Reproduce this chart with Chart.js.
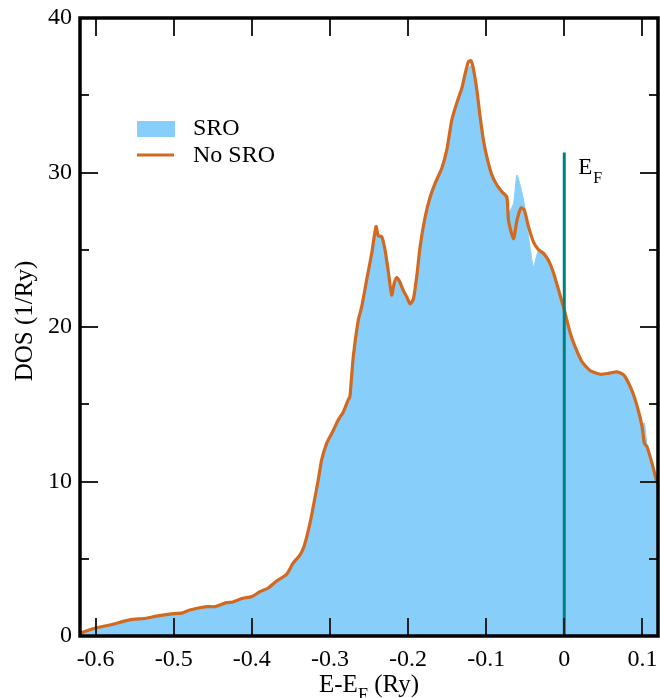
<!DOCTYPE html>
<html>
<head>
<meta charset="utf-8">
<script src="https://cdn.jsdelivr.net/npm/chart.js@4/dist/chart.umd.min.js"></script>
<style>
  html, body { margin: 0; padding: 0; background: #fff; }
  #wrap { width: 660px; height: 698px; position: relative; }
</style>
</head>
<body>
<div id="wrap"><canvas id="dos"></canvas></div>
<script>
// Energy grid (Ry, relative to E_F) and density of states (1/Ry)
const energy = [
  -0.62, -0.6183, -0.6013, -0.582, -0.5564, -0.535, -0.5222, -0.505, -0.4885, -0.4795,
  -0.458, -0.4474, -0.4324, -0.4244, -0.4115, -0.4004, -0.3897, -0.3795, -0.3683, -0.3555,
  -0.3474, -0.3385, -0.3333, -0.3291, -0.3247, -0.3214, -0.315, -0.3106, -0.3042, -0.2958,
  -0.2894, -0.2829, -0.2765, -0.2744, -0.2701, -0.2637, -0.2594, -0.2522, -0.2465, -0.241,
  -0.2381, -0.2337, -0.2295, -0.2253, -0.2209, -0.2179, -0.2145, -0.2103, -0.206, -0.2017,
  -0.1974, -0.1932, -0.1888, -0.1846, -0.1782, -0.1718, -0.1654, -0.1568, -0.1504, -0.144,
  -0.1376, -0.1312, -0.1269, -0.1227, -0.1196, -0.1163, -0.1119, -0.1077, -0.1035, -0.0991,
  -0.0927, -0.0863, -0.0799, -0.0735, -0.0714, -0.065, -0.0606, -0.0555, -0.0513, -0.0458,
  -0.0394, -0.0329, -0.0265, -0.0201, -0.0137, -0.0073, 0.0, 0.0077, 0.0141, 0.0227,
  0.0333, 0.0462, 0.0568, 0.0676, 0.076, 0.0824, 0.0888, 0.0953, 0.0996, 0.1026,
  0.106, 0.1124, 0.1179, 0.12
];
const dosNoSro = [
  0.15, 0.21, 0.5, 0.71, 1.04, 1.15, 1.29, 1.42, 1.5, 1.68,
  1.9, 1.9, 2.16, 2.2, 2.44, 2.54, 2.87, 3.09, 3.56, 3.99,
  4.7, 5.24, 5.78, 6.54, 7.5, 8.37, 10.1, 11.4, 12.47, 13.3,
  13.98, 14.5, 15.3, 15.5, 18.1, 20.45, 21.3, 23.26, 24.77, 26.5,
  25.9, 25.85, 25.0, 23.6, 22.07, 22.8, 23.2, 22.9, 22.35, 21.96,
  21.5, 21.8, 23.3, 25.2, 27.1, 28.4, 29.3, 30.27, 31.46, 33.4,
  34.5, 35.45, 36.4, 37.17, 37.24, 36.7, 35.34, 33.6, 32.1, 31.0,
  29.84, 29.19, 28.76, 28.4, 26.9, 25.7, 26.9, 27.7, 27.6, 26.5,
  25.5, 25.0, 24.77, 24.3, 23.5, 22.4, 21.1, 19.6, 18.7, 17.75,
  17.17, 16.94, 17.0, 17.1, 16.9, 16.36, 15.6, 14.5, 13.55, 12.47,
  12.25, 11.17, 10.1, 9.8
];
const dosSro = [
  0.15, 0.21, 0.5, 0.71, 1.04, 1.15, 1.29, 1.42, 1.5, 1.68,
  1.9, 1.9, 2.16, 2.2, 2.44, 2.54, 2.87, 3.09, 3.56, 3.99,
  4.7, 5.24, 5.78, 6.54, 7.5, 8.37, 10.1, 11.4, 12.47, 13.3,
  13.98, 14.5, 15.3, 15.5, 18.1, 20.45, 21.3, 23.26, 24.77, 26.3,
  25.9, 25.85, 25.0, 23.6, 22.07, 22.8, 23.3, 22.9, 22.35, 21.96,
  21.5, 21.8, 23.3, 25.2, 27.1, 28.4, 29.3, 30.27, 31.46, 33.4,
  34.5, 35.3, 36.2, 36.8, 36.9, 36.5, 35.3, 33.7, 32.3, 31.2,
  30.0, 29.3, 28.8, 28.2, 27.4, 28.0, 29.84, 29.0, 28.0, 25.9,
  23.9, 25.0, 24.77, 24.3, 23.5, 22.4, 21.1, 19.6, 18.7, 17.75,
  17.17, 16.94, 17.0, 17.1, 16.9, 16.36, 15.6, 14.6, 13.7, 13.8,
  12.3, 11.17, 10.1, 9.8
];

// Fermi level marker and axis ticks
const fermiLine = [0, 31.3];
const xMajorTicks = [-0.6, -0.5, -0.4, -0.3, -0.2, -0.1, 0, 0.1];
const yMajorTicks = [0, 10, 20, 30, 40];
const yMinorTicks = [5, 15, 25, 35];

const SERIF = '"Liberation Serif", "Times New Roman", serif';
const BLUE = "#87cefa";
const ORANGE = "#d2691e";
const TEAL = "#008080";

const toPoints = (xs, ys) => xs.map((x, i) => ({ x, y: ys[i] }));

// frame, inward ticks, legend and text labels
const decorations = {
  id: "decorations",
  afterDatasetsDraw(chart) {
    const { ctx, chartArea: a, scales } = chart;
    const xs = scales.x, ys = scales.y;
    ctx.save();

    // ticks on all four sides
    ctx.strokeStyle = "#222";
    ctx.lineWidth = 2;
    ctx.beginPath();
    for (const v of xMajorTicks) {
      const px = Math.round(xs.getPixelForValue(v));
      ctx.moveTo(px, a.bottom); ctx.lineTo(px, a.bottom - 18);
      ctx.moveTo(px, a.top); ctx.lineTo(px, a.top + 18);
    }
    for (const v of yMajorTicks) {
      const py = Math.round(ys.getPixelForValue(v));
      ctx.moveTo(a.left, py); ctx.lineTo(a.left + 18, py);
      ctx.moveTo(a.right, py); ctx.lineTo(a.right - 18, py);
    }
    for (const v of yMinorTicks) {
      const py = Math.round(ys.getPixelForValue(v));
      ctx.moveTo(a.left, py); ctx.lineTo(a.left + 9, py);
      ctx.moveTo(a.right, py); ctx.lineTo(a.right - 9, py);
    }
    ctx.stroke();

    // frame
    ctx.strokeStyle = "#000";
    ctx.lineWidth = 3.5;
    ctx.strokeRect(a.left, a.top, a.right - a.left, a.bottom - a.top);

    // legend
    ctx.fillStyle = BLUE;
    ctx.fillRect(137, 121, 38, 16);
    ctx.strokeStyle = ORANGE;
    ctx.lineWidth = 3;
    ctx.beginPath();
    ctx.moveTo(137, 155); ctx.lineTo(174, 155);
    ctx.stroke();
    ctx.fillStyle = "#000";
    ctx.font = "24px " + SERIF;
    ctx.textBaseline = "middle";
    ctx.textAlign = "left";
    ctx.fillText("SRO", 193, 129);
    ctx.fillText("No SRO", 193, 156);

    // E_F label next to the Fermi line
    const xf = xs.getPixelForValue(0);
    ctx.textBaseline = "alphabetic";
    ctx.font = "23px " + SERIF;
    ctx.fillText("E", xf + 14, 174);
    ctx.font = "16px " + SERIF;
    ctx.fillText("F", xf + 29, 183);

    // x axis title with subscript
    const main = "E-E";
    const tail = " (Ry)";
    ctx.font = "25px " + SERIF;
    const wMain = ctx.measureText(main).width;
    const wTail = ctx.measureText(tail).width;
    ctx.font = "18px " + SERIF;
    const wSub = ctx.measureText("F").width;
    const x0 = (a.left + a.right) / 2 - (wMain + wSub + wTail) / 2;
    ctx.font = "25px " + SERIF;
    ctx.fillText(main, x0, 692);
    ctx.font = "18px " + SERIF;
    ctx.fillText("F", x0 + wMain, 701);
    ctx.font = "25px " + SERIF;
    ctx.fillText(tail, x0 + wMain + wSub, 692);

    // y axis title
    ctx.translate(25, 321);
    ctx.rotate(-Math.PI / 2);
    ctx.textAlign = "center";
    ctx.textBaseline = "middle";
    ctx.fillText("DOS (1/Ry)", 0, 0);

    ctx.restore();
  },
};

new Chart(document.getElementById("dos"), {
  type: "scatter",
  data: {
    datasets: [
      {
        label: "E_F",
        data: toPoints([0, 0], fermiLine),
        showLine: true,
        borderColor: TEAL,
        borderWidth: 3,
        pointRadius: 0,
        fill: false,
        order: 0,
      },
      {
        label: "No SRO",
        data: toPoints(energy, dosNoSro),
        showLine: true,
        borderColor: ORANGE,
        borderWidth: 3.2,
        pointRadius: 0,
        tension: 0.2,
        fill: false,
        order: 1,
      },
      {
        label: "SRO",
        data: toPoints(energy, dosSro),
        showLine: true,
        borderColor: BLUE,
        backgroundColor: BLUE,
        borderWidth: 1,
        pointRadius: 0,
        tension: 0.2,
        fill: "origin",
        order: 2,
      },
    ],
  },
  options: {
    responsive: true,
    maintainAspectRatio: false,
    animation: false,
    layout: { padding: { top: 18, right: 2, left: 0, bottom: 0 } },
    plugins: {
      legend: { display: false },
      tooltip: { enabled: false },
    },
    scales: {
      x: {
        type: "linear",
        min: -0.62,
        max: 0.12,
        afterBuildTicks: (s) => { s.ticks = xMajorTicks.map((v) => ({ value: v })); },
        afterFit: (s) => { s.height = 62; s.paddingLeft = 0; s.paddingRight = 0; },
        grid: { display: false, drawTicks: false },
        border: { display: false },
        ticks: {
          padding: 9,
          color: "#000",
          font: { family: SERIF, size: 24 },
          callback: (v) => String(Math.round(v * 10) / 10),
        },
      },
      y: {
        type: "linear",
        min: 0,
        max: 40,
        afterBuildTicks: (s) => { s.ticks = yMajorTicks.map((v) => ({ value: v })); },
        afterFit: (s) => { s.width = 80; s.paddingTop = 0; s.paddingBottom = 0; },
        grid: { display: false, drawTicks: false },
        border: { display: false },
        ticks: {
          padding: 8,
          color: "#000",
          font: { family: SERIF, size: 24 },
        },
      },
    },
  },
  plugins: [decorations],
});
</script>
</body>
</html>
